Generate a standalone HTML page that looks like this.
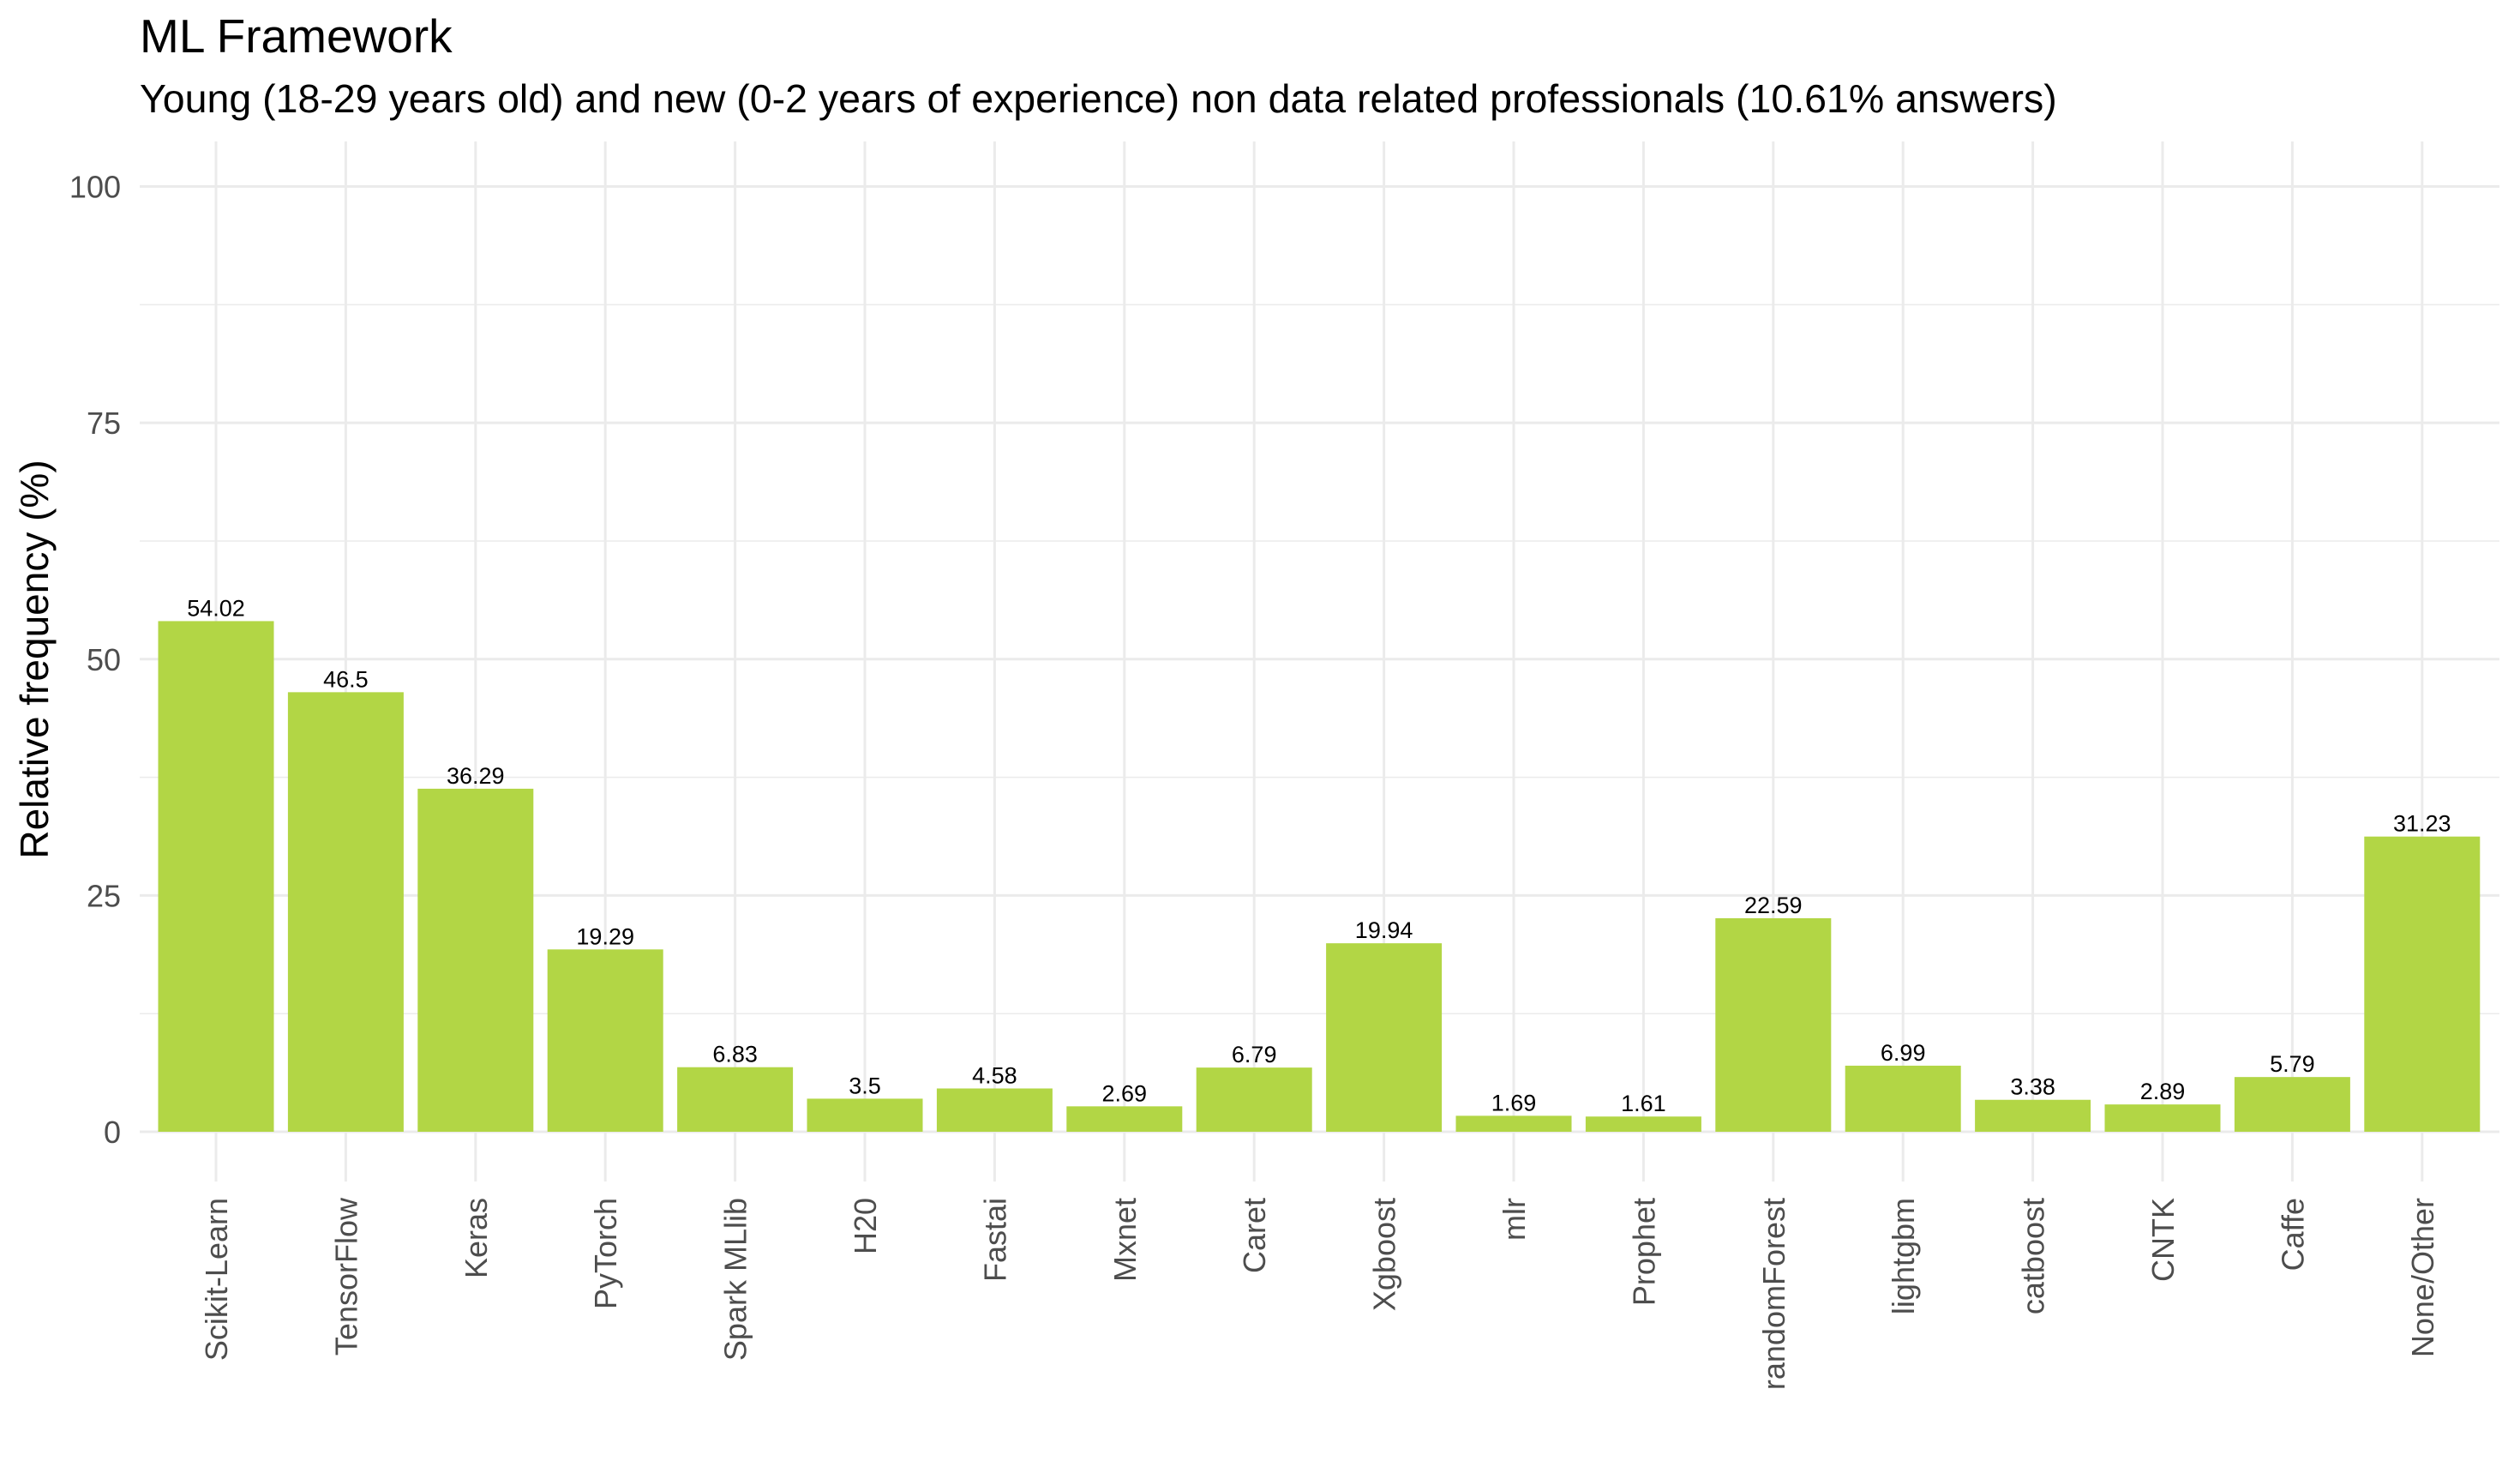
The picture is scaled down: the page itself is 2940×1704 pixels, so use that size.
<!DOCTYPE html>
<html><head><meta charset="utf-8"><style>
html,body{margin:0;padding:0;background:#fff;}
svg{display:block;font-family:"Liberation Sans",Arial,sans-serif;}
</style></head><body>
<svg id="chart" width="2940" height="1704" viewBox="0 0 2940 1704">
<text x="163" y="61" font-size="55" fill="#000">ML Framework</text>
<text x="163" y="131" font-size="46.5" fill="#000">Young (18-29 years old) and new (0-2 years of experience) non data related professionals (10.61% answers)</text>
<text transform="translate(56,769) rotate(-90)" text-anchor="middle" font-size="46" fill="#000">Relative frequency (%)</text>
<g id="grid"></g><g id="bars"></g><g id="labels"></g>
</svg>
<script>
const categories=["Scikit-Learn","TensorFlow","Keras","PyTorch","Spark MLlib","H20","Fastai","Mxnet","Caret","Xgboost","mlr","Prophet","randomForest","lightgbm","catboost","CNTK","Caffe","None/Other"];
const values=[54.02,46.5,36.29,19.29,6.83,3.5,4.58,2.69,6.79,19.94,1.69,1.61,22.59,6.99,3.38,2.89,5.79,31.23];
const yTicks=[0,25,50,75,100];
const yMinor=[12.5,37.5,62.5,87.5];
const NS="http://www.w3.org/2000/svg";
const panelL=163,panelR=2916,panelT=165,panelB=1378;
const y0=1320,yPer=(1320-217.5)/100;
const x0=252,step=151.4,bw=135;
function ys(v){return y0-v*yPer;}
function xs(i){return x0+i*step;}
function mk(tag,attrs,parent){const e=document.createElementNS(NS,tag);for(const k in attrs)e.setAttribute(k,attrs[k]);parent.appendChild(e);return e;}
const grid=document.getElementById('grid'),bars=document.getElementById('bars'),labels=document.getElementById('labels');
yMinor.forEach(v=>{const l=mk('line',{x1:panelL,x2:panelR,y1:ys(v),y2:ys(v),stroke:'#ebebeb','stroke-width':1.5},grid);

});
yTicks.forEach(v=>{const l=mk('line',{x1:panelL,x2:panelR,y1:ys(v),y2:ys(v),stroke:'#ebebeb','stroke-width':3},grid);


const t=mk('text',{x:141,y:ys(v)+13,'text-anchor':'end','font-size':36,fill:'#4d4d4d'},grid);t.textContent=v;

});
categories.forEach((c,i)=>{const x=xs(i);
const g=mk('line',{x1:x,x2:x,y1:panelT,y2:panelB,stroke:'#ebebeb','stroke-width':3},grid);


const r=mk('rect',{x:x-bw/2,y:ys(values[i]),width:bw,height:y0-ys(values[i]),fill:'#b2d645'},bars);


const vl=mk('text',{x:x,y:ys(values[i])-6,'text-anchor':'middle','font-size':27,fill:'#000'},labels);vl.textContent=values[i];


const xl=mk('text',{transform:`translate(${x+13},1397) rotate(-90)`,'text-anchor':'end','font-size':36,fill:'#4d4d4d'},labels);xl.textContent=c;

});
</script>
</body></html>
